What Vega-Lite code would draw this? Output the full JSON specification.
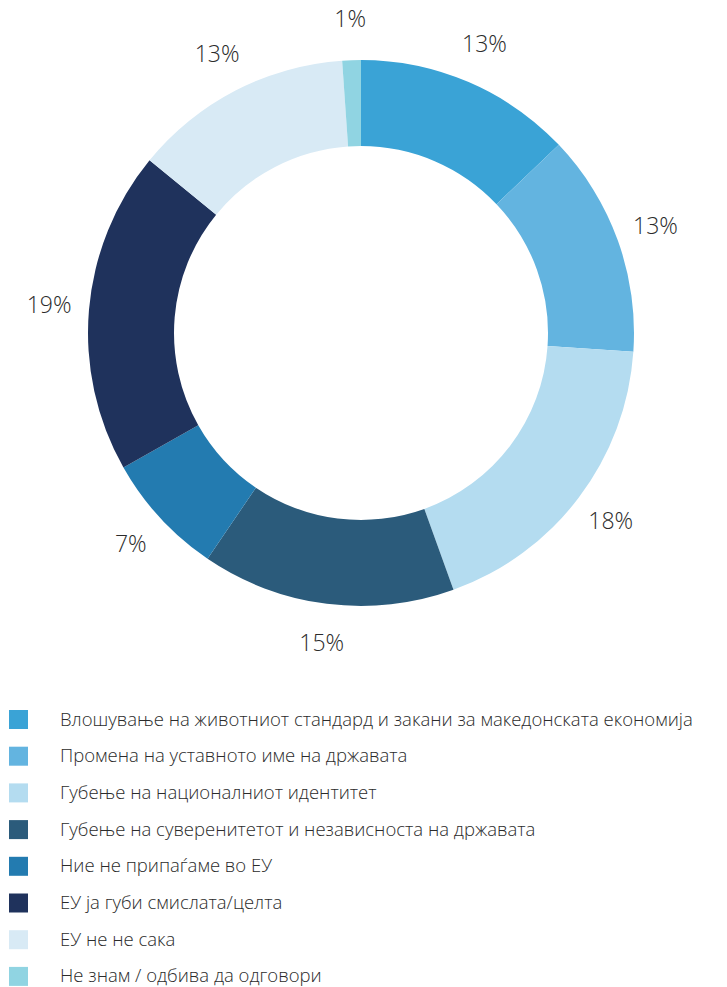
{
  "$schema": "https://vega.github.io/schema/vega-lite/v6.json",
  "autosize": {"type": "none"},
  "width": 722,
  "height": 666,
  "padding": {"left": 0, "top": 0, "right": 5, "bottom": 321},
  "background": "white",
  "config": {"view": {"stroke": null}, "font": "Open Sans"},
  "data": {
    "values": [
      {"order": 1, "category": "Влошување на животниот стандард и закани за македонската економија", "value": 12.9, "label": "13%"},
      {"order": 2, "category": "Промена на уставното име на државата", "value": 13.2, "label": "13%"},
      {"order": 3, "category": "Губење на националниот идентитет", "value": 18.4, "label": "18%"},
      {"order": 4, "category": "Губење на суверенитетот и независноста на државата", "value": 15.0, "label": "15%"},
      {"order": 5, "category": "Ние не припаѓаме во ЕУ", "value": 7.3, "label": "7%"},
      {"order": 6, "category": "ЕУ ја губи смислата/целта", "value": 19.1, "label": "19%"},
      {"order": 7, "category": "ЕУ не не сака", "value": 13.0, "label": "13%"},
      {"order": 8, "category": "Не знам / одбива да одговори", "value": 1.1, "label": "1%"}
    ]
  },
  "encoding": {
    "theta": {"field": "value", "type": "quantitative", "stack": true},
    "order": {"field": "order", "type": "quantitative"}
  },
  "layer": [
    {
      "mark": {"type": "arc", "outerRadius": 273, "innerRadius": 187},
      "encoding": {
        "color": {
          "field": "category",
          "type": "nominal",
          "sort": {"field": "order"},
          "scale": {
            "domain": [
              "Влошување на животниот стандард и закани за македонската економија",
              "Промена на уставното име на државата",
              "Губење на националниот идентитет",
              "Губење на суверенитетот и независноста на државата",
              "Ние не припаѓаме во ЕУ",
              "ЕУ ја губи смислата/целта",
              "ЕУ не не сака",
              "Не знам / одбива да одговори"
            ],
            "range": ["#3aa3d6", "#63b4e0", "#b4dcf0", "#2b5b7b", "#237bb0", "#1f325c", "#d8eaf5", "#90d4e2"]
          },
          "legend": {
            "orient": "none",
            "legendX": 9,
            "legendY": 710,
            "title": null,
            "padding": 0,
            "symbolType": "square",
            "symbolSize": 361,
            "symbolStrokeWidth": 0,
            "labelFont": "Open Sans",
            "labelFontWeight": 300,
            "labelFontSize": 18.5,
            "labelColor": "#2b2b2b",
            "labelOffset": 32,
            "labelLimit": 0,
            "rowPadding": 17.7
          }
        }
      }
    },
    {
      "mark": {"type": "text", "radius": 313, "font": "Open Sans", "fontWeight": 300, "fontSize": 23, "color": "#2b2b2b", "align": "center", "baseline": "middle"},
      "encoding": {
        "text": {"field": "label", "type": "nominal"}
      }
    }
  ]
}
